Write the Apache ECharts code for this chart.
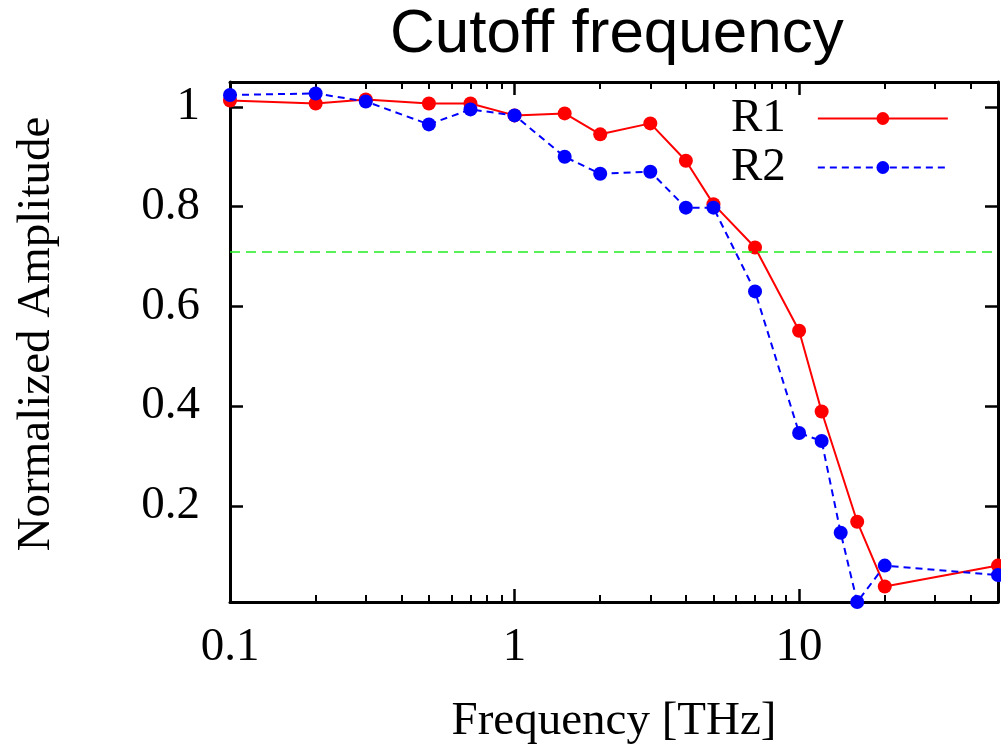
<!DOCTYPE html>
<html>
<head>
<meta charset="utf-8">
<title>Cutoff frequency</title>
<script src="https://cdn.jsdelivr.net/npm/echarts@6/dist/echarts.min.js"></script>
<style>
  html, body { margin: 0; padding: 0; background: #fff; }
  #chart { width: 1001px; height: 748px; }
</style>
</head>
<body>
<div id="chart"></div>
<script>
// frequencies [THz] and normalized amplitudes
const freqR1 = [0.1, 0.2, 0.3, 0.5, 0.7, 1, 1.5, 2, 3, 4, 5, 7, 10, 12, 16, 20, 50]
const ampR1 = [1.013, 1.007, 1.015, 1.007, 1.007, 0.983, 0.987, 0.945, 0.967, 0.892, 0.805, 0.718, 0.551, 0.389, 0.168, 0.038, 0.080]

const freqR2 = [0.1, 0.2, 0.3, 0.5, 0.7, 1, 1.5, 2, 3, 4, 5, 7, 10, 12, 14, 16, 20, 50]
const ampR2 = [1.024, 1.027, 1.011, 0.965, 0.995, 0.983, 0.900, 0.866, 0.870, 0.798, 0.798, 0.630, 0.346, 0.330, 0.146, 0.007, 0.080, 0.061]

const cutoffLevel = 0.707 // 1/sqrt(2)

// tick values
const xMajor = [0.1, 1, 10]
const xMinor = [0.2, 0.3, 0.4, 0.5, 0.6, 0.7, 0.8, 0.9, 2, 3, 4, 5, 6, 7, 8, 9, 20, 30, 40]
const yTicks = [0.2, 0.4, 0.6, 0.8, 1]

const serif = 'Liberation Serif'
const black = '#000'

function logAxis(pos, major, withLabel) {
  return {
    type: 'log',
    logBase: 10,
    min: 0.1,
    max: 50,
    position: pos,
    axisLine: { show: major, onZero: false, lineStyle: { color: black, width: 3 } },
    axisTick: {
      inside: true,
      length: major ? 13 : 7,
      lineStyle: { color: black, width: major ? 2.5 : 2 },
      customValues: major ? xMajor : xMinor,
    },
    axisLabel: withLabel
      ? { customValues: xMajor, margin: 22, color: black, fontFamily: serif, fontSize: 47 }
      : { show: false },
    splitLine: { show: false },
    minorTick: { show: false },
  }
}

function ampAxis(pos, withLabel) {
  return {
    type: 'value',
    min: 0.007,
    max: 1.05,
    position: pos,
    axisLine: { show: true, onZero: false, lineStyle: { color: black, width: 3 } },
    axisTick: {
      inside: true,
      length: 13,
      lineStyle: { color: black, width: 2.5 },
      customValues: yTicks,
    },
    axisLabel: withLabel
      ? { customValues: yTicks, margin: 30, color: black, fontFamily: serif, fontSize: 47 }
      : { show: false },
    splitLine: { show: false },
  }
}

const xBottom = logAxis('bottom', true, true)
xBottom.name = 'Frequency [THz]'
xBottom.nameLocation = 'middle'
xBottom.nameGap = 96
xBottom.nameTextStyle = { color: black, fontFamily: serif, fontSize: 47 }

const yLeft = ampAxis('left', true)
yLeft.name = 'Normalized Amplitude'
yLeft.nameLocation = 'middle'
yLeft.nameGap = 170
yLeft.nameTextStyle = { color: black, fontFamily: serif, fontSize: 47, padding: [0, 0, 0, 16] }

const chartOptions = {
  animation: false,
  backgroundColor: '#fff',
  title: {
    text: 'Cutoff frequency',
    left: 390,
    top: 4,
    padding: 0,
    textStyle: { color: black, fontFamily: 'Liberation Sans', fontSize: 62, fontWeight: 'normal' },
  },
  legend: {
    orient: 'vertical',
    left: 731,
    top: 95,
    align: 'right',
    itemWidth: 130,
    itemHeight: 16,
    itemGap: 2,
    padding: 0,
    data: ['R1', 'R2'],
    textStyle: { color: black, fontFamily: serif, fontSize: 47, padding: [0, 27, 0, 0] },
  },
  grid: {
    left: 230,
    top: 82,
    width: 768,
    height: 520,
    containLabel: false,
    outerBoundsMode: 'none',
  },
  xAxis: [
    xBottom,
    logAxis('bottom', false, false),
    logAxis('top', true, false),
    logAxis('top', false, false),
  ],
  yAxis: [yLeft, ampAxis('right', false)],
  series: [
    {
      name: 'R1',
      type: 'line',
      xAxisIndex: 0,
      yAxisIndex: 0,
      data: freqR1.map((f, i) => [f, ampR1[i]]),
      symbol: 'circle',
      symbolSize: 14,
      clip: false,
      itemStyle: { color: '#ff0000' },
      lineStyle: { color: '#ff0000', width: 2 },
      markLine: {
        silent: true,
        symbol: 'none',
        label: { show: false },
        lineStyle: { color: '#22ee22', width: 1.5, type: [10, 6] },
        data: [{ yAxis: cutoffLevel }],
      },
    },
    {
      name: 'R2',
      type: 'line',
      xAxisIndex: 0,
      yAxisIndex: 0,
      data: freqR2.map((f, i) => [f, ampR2[i]]),
      symbol: 'circle',
      symbolSize: 14,
      clip: false,
      itemStyle: { color: '#0000ff' },
      lineStyle: { color: '#0000ff', width: 2, type: [7, 5] },
    },
  ],
}

const chartInstance = echarts.init(document.getElementById('chart'), null, { renderer: 'canvas' })
chartInstance.setOption(chartOptions)
</script>
</body>
</html>
